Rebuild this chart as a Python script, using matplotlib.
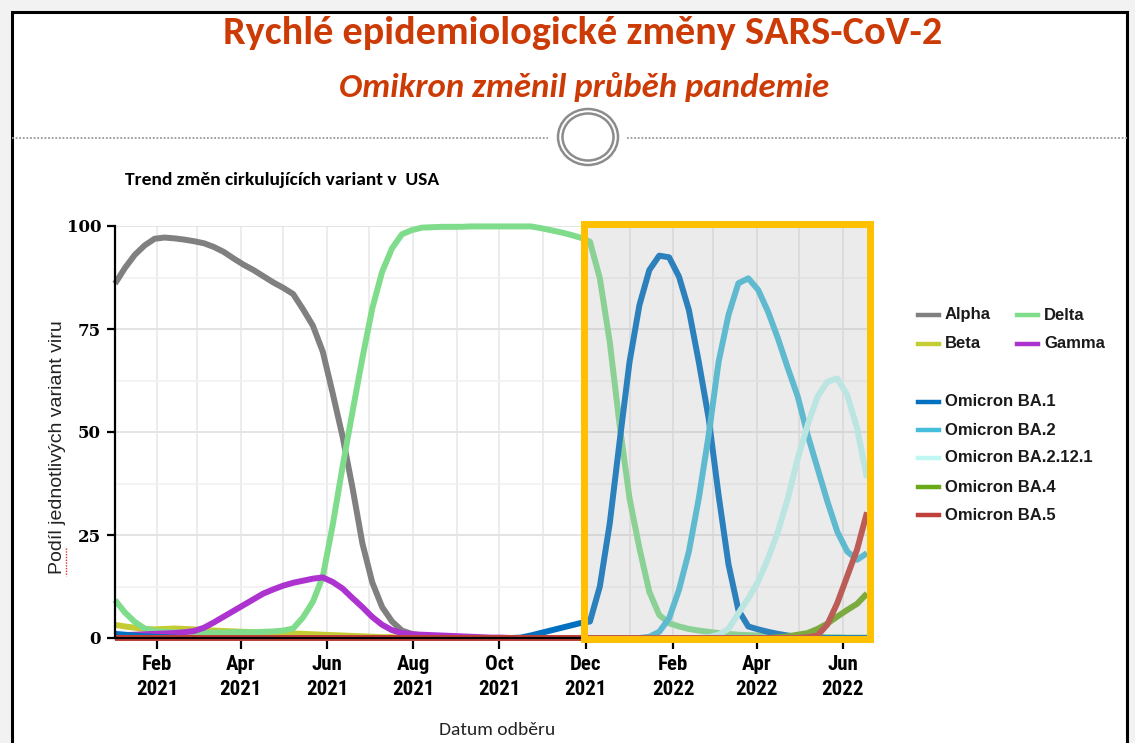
import matplotlib
matplotlib.use("Agg")
import matplotlib.pyplot as plt
import matplotlib.dates as mdates
from matplotlib.lines import Line2D
from matplotlib.patches import Rectangle, Ellipse
import pandas as pd

# weekly share of each variant (%), first week ending 2021-01-02
WEEK_START = "2021-01-02"

ALPHA = [
    86.0, 89.8, 93.0, 95.3, 96.9, 97.2, 97.0, 96.7, 96.3, 95.8,
    94.9, 93.7, 92.1, 90.6, 89.3, 87.8, 86.3, 85.0, 83.5, 79.8,
    75.8, 69.5, 59.4, 48.9, 36.5, 23.0, 13.5, 7.5, 4.0, 1.8,
    1.0, 0.6, 0.4, 0.3, 0.2, 0.2, 0.1, 0, 0, 0,
    0, 0, 0, 0, 0, 0, 0, 0, 0, 0,
    0, 0, 0, 0, 0, 0, 0, 0, 0, 0,
    0, 0, 0, 0, 0, 0, 0, 0, 0, 0,
    0, 0, 0, 0, 0, 0, 0,
]
BETA = [
    3.2, 2.8, 2.5, 2.2, 2.1, 2.2, 2.3, 2.2, 2.1, 1.9,
    1.8, 1.7, 1.6, 1.5, 1.4, 1.4, 1.3, 1.2, 1.1, 1.0,
    0.9, 0.8, 0.7, 0.6, 0.5, 0.4, 0.3, 0.2, 0.2, 0.1,
    0.1, 0, 0, 0, 0, 0, 0, 0, 0, 0,
    0, 0, 0, 0, 0, 0, 0, 0, 0, 0,
    0, 0, 0, 0, 0, 0, 0, 0, 0, 0,
    0, 0, 0, 0, 0, 0, 0, 0, 0, 0,
    0, 0, 0, 0, 0, 0, 0,
]
DELTA = [
    9.2, 6.2, 3.9, 2.3, 1.7, 1.5, 1.4, 1.3, 1.3, 1.3,
    1.3, 1.3, 1.4, 1.4, 1.4, 1.5, 1.6, 1.8, 2.3, 5.0,
    8.8, 14.9, 27.4, 41.6, 54.9, 67.9, 80.0, 88.9, 94.6, 98.0,
    99.0, 99.6, 99.7, 99.8, 99.8, 99.8, 99.9, 99.9, 99.9, 99.9,
    99.9, 99.9, 99.9, 99.5, 99.0, 98.5, 97.9, 97.2, 96.2, 87.3,
    71.9, 51.7, 33.9, 21.8, 11.2, 5.6, 3.6, 2.8, 2.2, 1.8,
    1.5, 1.2, 1.0, 0.8, 0.7, 0.6, 0.5, 0.4, 0.4, 0.3,
    0.3, 0.2, 0.2, 0.2, 0.1, 0.1, 0.1,
]
GAMMA = [
    0.6, 0.7, 0.8, 0.9, 1.0, 1.1, 1.2, 1.4, 1.7, 2.5,
    3.8, 5.2, 6.6, 8.0, 9.4, 10.8, 11.8, 12.7, 13.4, 13.9,
    14.4, 14.7, 13.6, 12.0, 9.7, 7.5, 5.1, 3.2, 1.9, 1.2,
    0.9, 0.8, 0.7, 0.6, 0.5, 0.4, 0.3, 0.2, 0.1, 0.1,
    0, 0, 0, 0, 0, 0, 0, 0, 0, 0,
    0, 0, 0, 0, 0, 0, 0, 0, 0, 0,
    0, 0, 0, 0, 0, 0, 0, 0, 0, 0,
    0, 0, 0, 0, 0, 0, 0,
]
BA1 = [
    1.0, 0.8, 0.6, 0.4, 0.3, 0.2, 0.1, 0, 0, 0,
    0, 0, 0, 0, 0, 0, 0, 0, 0, 0,
    0, 0, 0, 0, 0, 0, 0, 0, 0, 0,
    0, 0, 0, 0, 0, 0, 0, 0, 0, 0,
    0, 0.1, 0.6, 1.2, 1.8, 2.4, 3.0, 3.6, 4.0, 12.5,
    27.8, 47.7, 67.0, 80.8, 89.3, 92.8, 92.4, 87.7, 79.6, 67.0,
    53.3, 34.7, 17.9, 6.8, 2.8, 2.1, 1.5, 1.0, 0.6, 0.3,
    0.2, 0.1, 0, 0, 0, 0, 0,
]
BA2 = [
    0, 0, 0, 0, 0, 0, 0, 0, 0, 0,
    0, 0, 0, 0, 0, 0, 0, 0, 0, 0,
    0, 0, 0, 0, 0, 0, 0, 0, 0, 0,
    0, 0, 0, 0, 0, 0, 0, 0, 0, 0,
    0, 0, 0, 0, 0, 0, 0, 0, 0, 0,
    0, 0, 0, 0, 0.3, 1.5, 4.8, 11.7, 21.0, 33.9,
    49.3, 67.0, 78.4, 86.1, 87.3, 84.5, 79.2, 72.7, 65.5, 58.6,
    49.3, 41.2, 33.1, 25.8, 21.0, 19.0, 20.6,
]
BA2121 = [
    0, 0, 0, 0, 0, 0, 0, 0, 0, 0,
    0, 0, 0, 0, 0, 0, 0, 0, 0, 0,
    0, 0, 0, 0, 0, 0, 0, 0, 0, 0,
    0, 0, 0, 0, 0, 0, 0, 0, 0, 0,
    0, 0, 0, 0, 0, 0, 0, 0, 0, 0,
    0, 0, 0, 0, 0, 0, 0, 0, 0, 0,
    0.2, 0.8, 2.2, 6.0, 9.6, 13.7, 19.3, 25.8, 33.9, 43.6,
    51.7, 58.6, 62.2, 63.0, 59.0, 50.9, 38.8,
]
BA4 = [
    0, 0, 0, 0, 0, 0, 0, 0, 0, 0,
    0, 0, 0, 0, 0, 0, 0, 0, 0, 0,
    0, 0, 0, 0, 0, 0, 0, 0, 0, 0,
    0, 0, 0, 0, 0, 0, 0, 0, 0, 0,
    0, 0, 0, 0, 0, 0, 0, 0, 0, 0,
    0, 0, 0, 0, 0, 0, 0, 0, 0, 0,
    0, 0, 0, 0, 0, 0, 0, 0.2, 0.4, 0.8,
    1.2, 2.2, 3.5, 5.2, 6.8, 8.3, 10.8,
]
BA5 = [
    0, 0, 0, 0, 0, 0, 0, 0, 0, 0,
    0, 0, 0, 0, 0, 0, 0, 0, 0, 0,
    0, 0, 0, 0, 0, 0, 0, 0, 0, 0,
    0, 0, 0, 0, 0, 0, 0, 0, 0, 0,
    0, 0, 0, 0, 0, 0, 0, 0, 0, 0,
    0, 0, 0, 0, 0, 0, 0, 0, 0, 0,
    0, 0, 0, 0, 0, 0, 0, 0, 0, 0,
    0.2, 0.6, 3.3, 8.5, 15.0, 21.5, 30.5,
]

NAMES = ["Alpha", "Beta", "Delta", "Gamma", "Omicron BA.1", "Omicron BA.2",
         "Omicron BA.2.12.1", "Omicron BA.4", "Omicron BA.5"]
VALUES = [ALPHA, BETA, DELTA, GAMMA, BA1, BA2, BA2121, BA4, BA5]

TICK_DATES = ["2021-02-01", "2021-04-01", "2021-06-01", "2021-08-01", "2021-10-01",
              "2021-12-01", "2022-02-01", "2022-04-01", "2022-06-01"]
TICK_LABELS = ["Feb\n2021", "Apr\n2021", "Jun\n2021", "Aug\n2021", "Oct\n2021",
               "Dec\n2021", "Feb\n2022", "Apr\n2022", "Jun\n2022"]
Y_TICKS = [0, 25, 50, 75, 100]
OMICRON_PERIOD = ("2021-11-30", "2022-06-20")

COLORS = {
    "Alpha": "#808080",
    "Beta": "#c3cc33",
    "Delta": "#7fdc8b",
    "Gamma": "#ad33d0",
    "Omicron BA.1": "#0070c0",
    "Omicron BA.2": "#45bedb",
    "Omicron BA.2.12.1": "#bff7f2",
    "Omicron BA.4": "#6aaa18",
    "Omicron BA.5": "#c0403a",
}

W, H = 1135, 743
CALIBRI = ["Carlito", "DejaVu Sans"]
NARROW = ["Roboto Condensed", "DejaVu Sans"]
ARIAL = ["Liberation Sans", "DejaVu Sans"]
TITLE_RED = "#cc3a06"


def fx(x):
    return x / W


def fy(y):
    return 1 - y / H


fig = plt.figure(figsize=(W / 100, H / 100), dpi=100)
fig.patch.set_facecolor("#f2f2f2")

# slide frame
fig.add_artist(Rectangle((fx(12), fy(770)), fx(1127) - fx(12), fy(12) - fy(770),
                         transform=fig.transFigure, facecolor="white",
                         edgecolor="black", lw=2.2, zorder=-5))

fig.text(fx(583), fy(33), "Rychlé epidemiologické změny SARS-CoV-2",
         ha="center", va="center", fontsize=29, fontweight="bold",
         color=TITLE_RED, family=CALIBRI)
fig.text(fx(584), fy(87), "Omikron změnil průběh pandemie",
         ha="center", va="center", fontsize=25, fontweight="bold",
         fontstyle="italic", color=TITLE_RED, family=CALIBRI)

# separator with the double ring
for x0, x1 in [(12, 548), (627, 1127)]:
    fig.add_artist(Line2D([fx(x0), fx(x1)], [fy(138), fy(138)],
                          transform=fig.transFigure, color="#9a9a9a",
                          lw=1.3, linestyle=(0, (1, 1))))
for w, h in [(60, 56), (51, 47)]:
    fig.add_artist(Ellipse((fx(588), fy(137)), w / W, h / H,
                           transform=fig.transFigure, fill=False,
                           edgecolor="#8c8c8c", lw=1.8))

fig.text(fx(125), fy(180), "Trend změn cirkulujících variant v  USA",
         ha="left", va="center", fontsize=14, fontweight="bold",
         color="black", family=CALIBRI)

ax = fig.add_axes([fx(115), fy(638), (867 - 115) / W, (638 - 226) / H])
ax.set_facecolor("white")

dates = pd.date_range(WEEK_START, periods=len(ALPHA), freq="7D")
for z, (name, vals) in enumerate(zip(NAMES, VALUES)):
    ax.plot(dates, vals, color=COLORS[name], lw=4.3, solid_joinstyle="round",
            solid_capstyle="butt", clip_on=False, zorder=3 + z * 0.1)

ax.set_xlim(dates[0], dates[-1])
ax.set_ylim(0, 100)

ax.set_xticks(pd.to_datetime(TICK_DATES))
xlabels = ax.set_xticklabels(TICK_LABELS, fontsize=15, fontweight="bold",
                             family=NARROW)
for t in xlabels:
    t.set_linespacing(1.4)
ax.xaxis.set_minor_locator(mdates.MonthLocator())
ax.set_yticks(Y_TICKS)
ax.set_yticklabels([str(v) for v in Y_TICKS], fontsize=12, fontweight="bold",
                   family="DejaVu Serif")
ax.set_yticks([12.5, 37.5, 62.5, 87.5], minor=True)

ax.tick_params(axis="x", which="major", length=8, width=1.6, pad=4,
               color="black")
ax.tick_params(axis="y", which="major", length=6, width=1.6, pad=4,
               color="black")
ax.tick_params(which="minor", length=0)

ax.grid(axis="x", which="both", color="#e9e9e9", lw=1.2, zorder=0)
ax.grid(axis="y", which="major", color="#e4e4e4", lw=1.4, zorder=0)
ax.grid(axis="y", which="minor", color="#f1f1f1", lw=1.2, zorder=0)
ax.set_axisbelow(True)

for side in ["top", "right"]:
    ax.spines[side].set_visible(False)
for side in ["left", "bottom"]:
    ax.spines[side].set_color("black")
    ax.spines[side].set_linewidth(1.6)
    ax.spines[side].set_zorder(4)

# shaded Omicron period
p0, p1 = [mdates.date2num(pd.Timestamp(d)) for d in OMICRON_PERIOD]
ax.add_patch(Rectangle((p0, -0.2), p1 - p0, 100.8, facecolor="#b0b0b0",
                       alpha=0.25, edgecolor="none", clip_on=False, zorder=5))
ax.add_patch(Rectangle((p0, -0.2), p1 - p0, 100.8, fill=False,
                       edgecolor="#ffc000", lw=5, clip_on=False,
                       joinstyle="miter", zorder=6))

fig.text(fx(58), fy(447), "Podíl jednotlivých variant viru", rotation=90,
         ha="center", va="center", fontsize=14, color="#222222",
         family=ARIAL)
fig.add_artist(Line2D([fx(66), fx(66)], [fy(548), fy(576)],
                      transform=fig.transFigure, color="#e03030", lw=1,
                      linestyle=(0, (1, 1))))
fig.text(fx(497), fy(730), "Datum odběru", ha="center", va="center",
         fontsize=14, color="#222222", family=CALIBRI)

# legend drawn by hand: classic variants in two columns, Omicron in one
LEGEND_ROWS = [
    [(918, 315, "Alpha"), (1017, 315, "Delta")],
    [(918, 344, "Beta"), (1017, 344, "Gamma")],
    [(918, 402, "Omicron BA.1")],
    [(918, 430, "Omicron BA.2")],
    [(918, 458, "Omicron BA.2.12.1")],
    [(918, 487, "Omicron BA.4")],
    [(918, 515, "Omicron BA.5")],
]
for row in LEGEND_ROWS:
    for x, y, name in row:
        fig.add_artist(Line2D([fx(x), fx(x + 21)], [fy(y), fy(y)],
                              transform=fig.transFigure, color=COLORS[name],
                              lw=3.2))
        fig.text(fx(x + 27), fy(y), name, ha="left", va="center",
                 fontsize=12, fontweight="bold", color="#1a1a1a",
                 family=ARIAL)

fig.savefig("out.png", dpi=100, facecolor=fig.get_facecolor())
